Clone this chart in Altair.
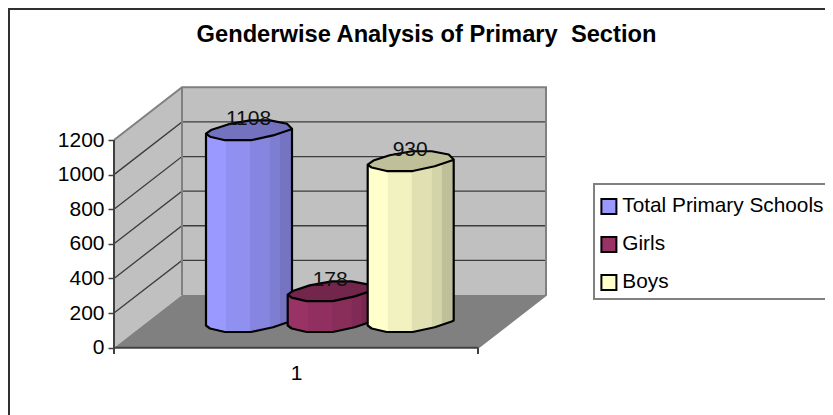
import altair as alt
import numpy as np
import pandas as pd

# ---- values ----
title_text = "Genderwise Analysis of Primary\u00a0 Section"
categories = ["1"]
series = ["Total Primary Schools", "Girls", "Boys"]
values = [1108, 178, 930]
colors = ["#9999FF", "#993366", "#FFFFCC"]
y_ticks = [0, 200, 400, 600, 800, 1000, 1200]

# ---- layout of the drawing (page pixels) ----
FONT = "Liberation Sans"
K = (347.7 - 140.0) / 1200          # pixels per value unit
Y0 = 347.7                          # page y of value 0
XL, XR = 114.0, 478.0               # front floor edge
DX = 68.0                           # depth shift, x
DV = 52.7 / K                       # depth shift, value units
BASE_V = (Y0 - 325.5) / K           # cylinders stand on the floor, value units
CYL_X = [206.0, 287.7, 367.7]
CYL_W = 86.0


def v(py):
    """page y -> value units"""
    return (Y0 - py) / K


x_scale = alt.Scale(domain=[8, 825], nice=False, zero=False)
y_scale = alt.Scale(domain=[v(415), v(8)], nice=False, zero=False)
x_axis = alt.Axis(
    values=[296], offset=-(415 - Y0), ticks=False, domain=False, grid=False,
    labelExpr=f"'{categories[0]}'", labelFont=FONT, labelFontSize=21,
    labelColor="black", labelPadding=15, title=None)
y_axis = alt.Axis(
    values=y_ticks, offset=-(XL - 8), domain=False, grid=False, tickSize=6, format="d",
    tickColor="#404040", tickWidth=1.5, labelFont=FONT, labelFontSize=21,
    labelColor="black", labelPadding=4, title=None)
X = lambda: alt.X("x:Q", scale=x_scale, axis=x_axis)
Y = lambda: alt.Y("y:Q", scale=y_scale, axis=y_axis)
Y2 = alt.Y2("y2:Q")

vmax = y_ticks[-1]
layers = []

# ---- walls and floor ----
left_wall = pd.DataFrame({"x": [XL, XL + DX], "y": [vmax, vmax + DV], "y2": [0, DV]})
back_wall = pd.DataFrame({"x": [XL + DX, XR + DX], "y": [vmax + DV] * 2, "y2": [DV] * 2})
floor = pd.DataFrame({"x": [XL, XL + DX, XR, XR + DX],
                      "y": [0, DV, DV, DV], "y2": [0, 0, 0, DV]})
for d, c in [(left_wall, "#C0C0C0"), (back_wall, "#C0C0C0"), (floor, "#808080")]:
    layers.append(alt.Chart(d).mark_area(color=c, opacity=1).encode(x=X(), y=Y(), y2=Y2))

# grid lines on both walls
grid = []
for t in y_ticks[1:-1]:
    grid += [{"x": XL, "y": t, "g": t, "o": 0},
             {"x": XL + DX, "y": t + DV, "g": t, "o": 1},
             {"x": XR + DX, "y": t + DV, "g": t, "o": 2}]
layers.append(alt.Chart(pd.DataFrame(grid)).mark_line(color="#3c3c3c", strokeWidth=1.3).encode(
    x=X(), y=Y(), detail="g:N", order="o:Q"))

# wall outline
outline = pd.DataFrame({
    "x": [XL, XL + DX, XR + DX, XR + DX, XR, XL + DX, XL + DX],
    "y": [vmax, vmax + DV, vmax + DV, DV, 0, vmax + DV, DV],
    "g": [0, 0, 0, 0, 0, 1, 1], "o": range(7)})
layers.append(alt.Chart(outline).mark_line(color="#808080", strokeWidth=2).encode(
    x=X(), y=Y(), detail="g:N", order="o:Q"))

# front axis lines
axis_lines = pd.DataFrame({
    "x": [XL, XL, XL, XR, XR, XR],
    "y": [vmax, v(354), 0, 0, 0, v(354)],
    "g": [0, 0, 1, 1, 2, 2], "o": range(6)})
layers.append(alt.Chart(axis_lines).mark_line(color="#404040", strokeWidth=2).encode(
    x=X(), y=Y(), detail="g:N", order="o:Q"))

# ---- cylinders ----
# outline of the squashed ellipse, offsets in px from its left corner (x right, y down)
front_dx = np.array([0, 4, 19, 45, 67, 84, 86.0])
front_dy = np.array([0, 3, 6.5, 6.5, 1.7, -4, -5.0])
back_dx = np.array([86, 81, 64, 44, 22, 5.7, 0.0])
back_dy = np.array([-5, -10, -13.3, -13.3, -9.3, -4, 0.0])
band_edges = [0, 20, 44, 64, 74, 86]
band_shade = {"Total Primary Schools": [0, .06, .12, .18, .24],
              "Girls": [0, .05, .10, .16, .22],
              "Boys": [0, .05, .12, .17, .25]}
top_shade = 0.25

legend = alt.Legend(
    title=None, orient="none", legendX=598.5 - 8, legendY=196 - 8,
    padding=0, symbolType="square", symbolSize=225, symbolStrokeColor="black",
    symbolStrokeWidth=2, symbolOpacity=1,
    labelFont=FONT, labelFontSize=20.8, labelColor="black", labelOffset=3,
    rowPadding=14, labelLimit=400)
fill = alt.Fill("s:N", scale=alt.Scale(domain=series, range=colors), legend=legend)

for name, val, cx in zip(series, values, CYL_X):
    top = BASE_V + val
    # body
    body = pd.DataFrame({"x": cx + front_dx,
                         "y": top - front_dy / K,
                         "y2": BASE_V - front_dy / K,
                         "s": name})
    layers.append(alt.Chart(body).mark_area(opacity=1).encode(x=X(), y=Y(), y2=Y2, fill=fill))
    # shaded vertical bands
    rows = []
    for b, op in enumerate(band_shade[name]):
        a0, a1 = band_edges[b], band_edges[b + 1]
        xs = [a0] + [d for d in front_dx if a0 < d < a1] + [a1]
        for d in xs:
            dy = float(np.interp(d, front_dx, front_dy))
            rows.append({"x": cx + d, "y": top - dy / K, "y2": BASE_V - dy / K,
                         "b": b, "op": op})
    layers.append(alt.Chart(pd.DataFrame(rows)).mark_area(color="black").encode(
        x=X(), y=Y(), y2=Y2, detail="b:N", opacity=alt.Opacity("op:Q", scale=None)))
    # top cap
    xs = sorted(set(front_dx) | set(back_dx))
    cap = pd.DataFrame({
        "x": [cx + d for d in xs],
        "y": [top - float(np.interp(d, back_dx[::-1], back_dy[::-1])) / K for d in xs],
        "y2": [top - float(np.interp(d, front_dx, front_dy)) / K for d in xs],
        "s": name})
    layers.append(alt.Chart(cap).mark_area(opacity=1).encode(x=X(), y=Y(), y2=Y2, fill=fill))
    layers.append(alt.Chart(cap).mark_area(color="black", opacity=top_shade).encode(
        x=X(), y=Y(), y2=Y2))
    # black outline
    path_x = list(back_dx[::-1]) + [86] + list(front_dx[::-1]) + [0] + list(front_dx) + [86]
    path_y = ([top - d / K for d in back_dy[::-1]]
              + [BASE_V - front_dy[-1] / K]
              + [BASE_V - d / K for d in front_dy[::-1]]
              + [top - front_dy[0] / K]
              + [top - d / K for d in front_dy]
              + [top - front_dy[-1] / K])
    line = pd.DataFrame({"x": [cx + d for d in path_x], "y": path_y, "o": range(len(path_x))})
    layers.append(alt.Chart(line).mark_line(color="black", strokeWidth=2.2, strokeJoin="round").encode(
        x=X(), y=Y(), order="o:Q"))

# ---- value labels ----
labels = pd.DataFrame({"x": [c + 42.5 for c in CYL_X],
                       "y": [BASE_V + w for w in values], "t": [str(w) for w in values]})
layers.append(alt.Chart(labels).mark_text(
    font=FONT, fontSize=21, color="#111111", dy=-15, baseline="middle", align="center"
).encode(x=X(), y=Y(), text="t:N"))

# ---- legend box (open at the right, as the picture is cut there) ----
box = pd.DataFrame({"x": [825, 594, 594, 825],
                    "y": [v(184), v(184), v(299), v(299)], "o": range(4)})
layers.append(alt.Chart(box).mark_line(color="#808080", strokeWidth=2).encode(
    x=X(), y=Y(), order="o:Q"))

# ---- title as text ----
title_df = pd.DataFrame({"x": [426.5], "y": [v(42)], "t": [title_text]})
layers.append(alt.Chart(title_df).mark_text(
    font=FONT, fontSize=23.7, fontWeight="bold", color="black", baseline="alphabetic", align="center"
).encode(x=X(), y=Y(), text="t:N"))

# ---- chart frame (left and top edges) ----
frame = pd.DataFrame({"x": [9, 9, 825], "y": [v(415), v(9), v(9)], "o": range(3)})
layers.append(alt.Chart(frame).mark_line(color="#303030", strokeWidth=2).encode(
    x=X(), y=Y(), order="o:Q"))

chart = alt.layer(*layers).properties(
    width=817, height=407, padding=0, background="white",
    autosize=alt.AutoSizeParams(type="none"),
).configure_view(stroke=None)

chart.save("out.html", embed_options={"renderer": "svg", "actions": False})
